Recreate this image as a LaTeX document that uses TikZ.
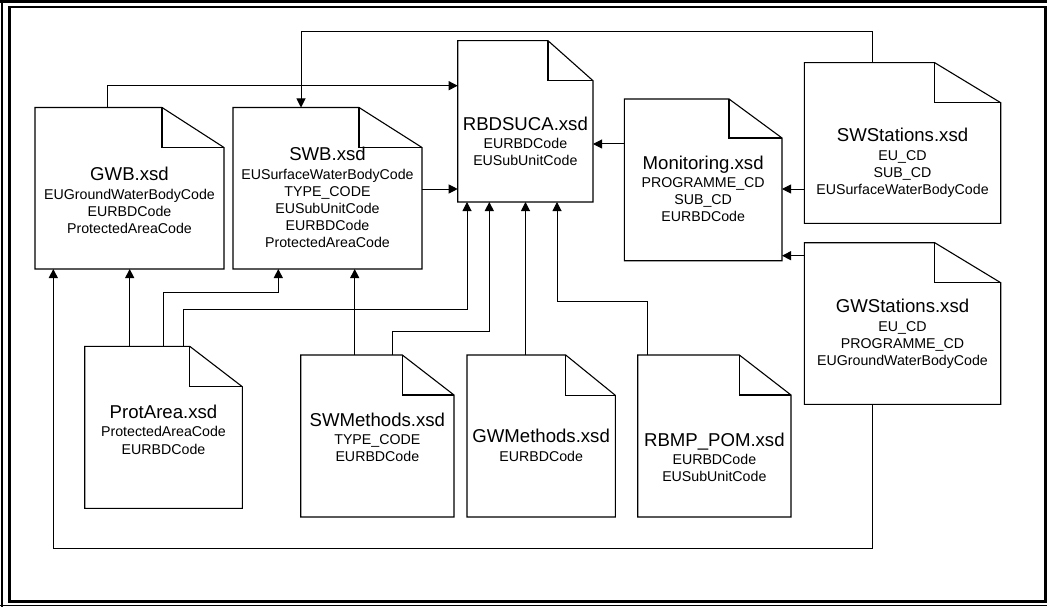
\documentclass[tikz,border=0pt]{standalone}
\usepackage{fontspec}
\setmainfont{Liberation Sans}
\usetikzlibrary{arrows.meta,calc}

% document sheet with a folded top-right corner: #1 node, #2 fold width, #3 fold height
\newcommand{\xsdpage}[3]{%
  \draw[docline, fill=white] (#1.south west) -- (#1.north west)
    -- ([xshift=-#2pt]#1.north east) -- ([yshift=-#3pt]#1.north east)
    -- (#1.south east) -- cycle;
  \draw[docline] ([xshift=-#2pt]#1.north east) |- ([yshift=-#3pt]#1.north east);
}
% schema file name set as the first, larger line
\newcommand{\xsdname}[1]{{\fontsize{18.6}{18.6}\selectfont #1}\\[1.2pt]}

\begin{document}
\begin{tikzpicture}[x=1pt, y=-1pt,
  docbox/.style={rectangle, draw=none, inner sep=0pt, outer sep=0pt},
  docline/.style={draw=black, line width=1.1pt, line join=miter},
  doctext/.style={anchor=north, align=center, inner sep=0pt,
                  font=\fontsize{14.2}{17.2}\selectfont},
  conn/.style={draw=black, line width=1pt, -{Triangle[length=9pt,width=9pt]}},
]
\useasboundingbox (0,0) rectangle (1047,607);

% page frame
\draw[line width=3pt] (0,1.5) -- (1047,1.5);
\draw[line width=2pt] (2.3,0) -- (2.3,607);
\draw[line width=1pt] (0,605) -- (1047,605);
\draw[line width=2.5pt] (9.5,7) rectangle (1045.5,601.7);

% schema documents
\node[docbox, minimum width=189pt,   minimum height=161.5pt] (gwb)  at (129.5,188.25) {};
\node[docbox, minimum width=189pt,   minimum height=161.5pt] (swb)  at (327.5,188.25) {};
\node[docbox, minimum width=135.3pt, minimum height=161.3pt] (rbd)  at (525.35,121.35) {};
\node[docbox, minimum width=157.7pt, minimum height=161.7pt] (mon)  at (703.15,179.85) {};
\node[docbox, minimum width=196.4pt, minimum height=160.6pt] (sws)  at (902.5,143) {};
\node[docbox, minimum width=196.4pt, minimum height=161.6pt] (gws)  at (902.5,323.5) {};
\node[docbox, minimum width=157.6pt, minimum height=162pt]   (prot) at (163.5,427.3) {};
\node[docbox, minimum width=153.3pt, minimum height=162pt]   (swm)  at (377.35,436) {};
\node[docbox, minimum width=148.3pt, minimum height=162pt]   (gwm)  at (541.15,436) {};
\node[docbox, minimum width=153.3pt, minimum height=162pt]   (rbmp) at (714.35,436) {};

\xsdpage{gwb}{62}{40}
\xsdpage{swb}{63}{40}
\xsdpage{rbd}{45}{40}
\xsdpage{mon}{53}{39}
\xsdpage{sws}{66}{40}
\xsdpage{gws}{66}{40}
\xsdpage{prot}{52.6}{40.4}
\xsdpage{swm}{51.7}{40}
\xsdpage{gwm}{49.6}{40.3}
\xsdpage{rbmp}{51.7}{40}

% key fields of each schema
\node[doctext] (gwb-t)  at (129.5,167.1)  {\xsdname{GWB.xsd}EUGroundWaterBodyCode\\EURBDCode\\ProtectedAreaCode};
\node[doctext] (swb-t)  at (327.5,147.1)  {\xsdname{SWB.xsd}EUSurfaceWaterBodyCode\\TYPE\_CODE\\EUSubUnitCode\\EURBDCode\\ProtectedAreaCode};
\node[doctext] (rbd-t)  at (525.35,116.4) {\xsdname{RBDSUCA.xsd}EURBDCode\\EUSubUnitCode};
\node[doctext] (mon-t)  at (703.15,155.4) {\xsdname{Monitoring.xsd}PROGRAMME\_CD\\SUB\_CD\\EURBDCode};
\node[doctext] (sws-t)  at (902.5,128.1)  {\xsdname{SWStations.xsd}EU\_CD\\SUB\_CD\\EUSurfaceWaterBodyCode};
\node[doctext] (gws-t)  at (902.5,299.1)  {\xsdname{GWStations.xsd}EU\_CD\\PROGRAMME\_CD\\EUGroundWaterBodyCode};
\node[doctext] (prot-t) at (163.5,404.8)  {\xsdname{ProtArea.xsd}ProtectedAreaCode\\EURBDCode};
\node[doctext] (swm-t)  at (377.35,412.4) {\xsdname{SWMethods.xsd}TYPE\_CODE\\EURBDCode};
\node[doctext] (gwm-t)  at (541.15,429.1) {\xsdname{GWMethods.xsd}EURBDCode};
\node[doctext] (rbmp-t) at (714.35,432.4) {\xsdname{RBMP\_POM.xsd}EURBDCode\\EUSubUnitCode};

% references between schemas
\draw[conn] ([xshift=72.3pt]gwb.north west) |- ([yshift=-45pt]rbd.north west);
\draw[conn] ([xshift=67.7pt]sws.north west) -- ++(0,31pt) -| ([xshift=68pt]swb.north west);
\draw[conn] ([yshift=-81.5pt]swb.north east) -- ([yshift=-148.3pt]rbd.north west);

\coordinate (m1) at ([yshift=-45pt]mon.north west);
\draw[conn] (m1) -- (m1 -| rbd.east);
\coordinate (s1) at ([yshift=-126.3pt]sws.north west);
\draw[conn] (s1) -- (s1 -| mon.east);
\coordinate (g1) at ([yshift=-13pt]gws.north west);
\draw[conn] (g1) -- (g1 -| mon.east);

\draw[conn] ([xshift=67.7pt]gws.south west) -- ++(0,-143.7pt) -| ([xshift=18.3pt]gwb.south west);

\coordinate (p1) at ([xshift=45pt]prot.north west);
\draw[conn] (p1) -- (p1 |- gwb.south);
\draw[conn] ([xshift=78.6pt]prot.north west) -- ++(0,53.6pt) -| ([xshift=45.3pt]swb.south west);
\draw[conn] ([xshift=99pt]prot.north west) -- ++(0,37pt) -| ([xshift=9.3pt]rbd.south west);

\coordinate (w1) at ([xshift=54pt]swm.north west);
\draw[conn] (w1) -- (w1 |- swb.south);
\draw[conn] ([xshift=92pt]swm.north west) -- ++(0,23.3pt) -| ([xshift=31.6pt]rbd.south west);

\coordinate (w2) at ([xshift=58.5pt]gwm.north west);
\draw[conn] (w2) -- (w2 |- rbd.south);
\draw[conn] ([xshift=9.3pt]rbmp.north west) -- ++(0,54pt) -| ([xshift=99.3pt]rbd.south west);
\end{tikzpicture}
\end{document}
